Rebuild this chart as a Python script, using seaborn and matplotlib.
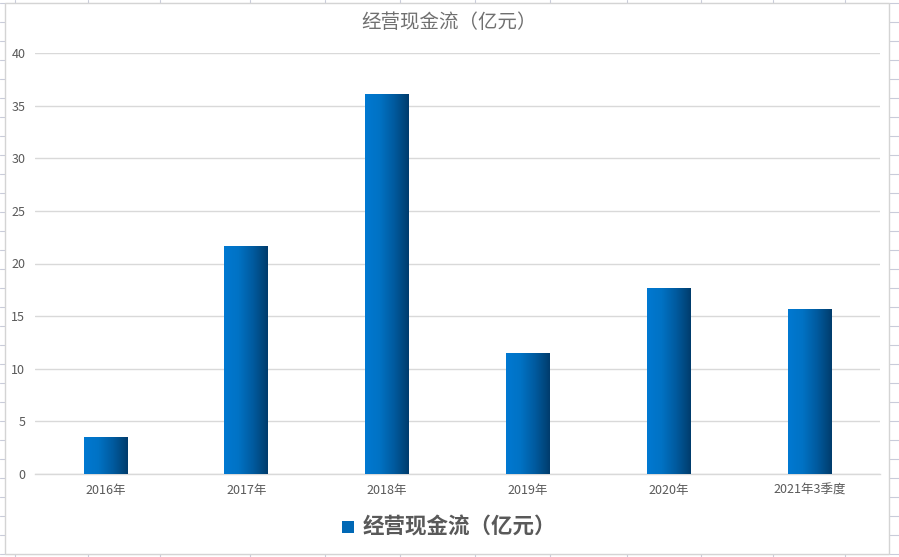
import numpy as np
import pandas as pd
import matplotlib
matplotlib.use("Agg")
import matplotlib.pyplot as plt
import seaborn as sns
from matplotlib.colors import LinearSegmentedColormap
from matplotlib.patches import Rectangle
from matplotlib.lines import Line2D

# chart data
periods = ['2016年', '2017年', '2018年', '2019年', '2020年', '2021年3季度']
cash_flow = [3.55, 21.7, 36.15, 11.5, 17.7, 15.7]
series_name = '经营现金流（亿元）'
y_ticks = [0, 5, 10, 15, 20, 25, 30, 35, 40]

df = pd.DataFrame({'period': periods, 'value': cash_flow})

sns.set_theme(style="white")
plt.rcParams['font.family'] = ['Noto Sans CJK SC', 'DejaVu Sans']

W, H = 899, 557
fig = plt.figure(figsize=(W / 100, H / 100), dpi=100)
fig.patch.set_facecolor('white')

# spreadsheet grid behind the chart
sheet = '#C9CCDA'
for y in np.arange(3, H, 19):
    fig.add_artist(Line2D([0, 1], [1 - y / H, 1 - y / H], color=sheet, lw=0.8, transform=fig.transFigure, zorder=0))
for x in [15, 88, 160, 250, 325, 400, 475, 550, 627, 701, 773, 845]:
    fig.add_artist(Line2D([x / W, x / W], [0, 1], color=sheet, lw=0.8, transform=fig.transFigure, zorder=0))

# chart box
fig.add_artist(Rectangle((5 / W, 1 - 554 / H), (889 - 5) / W, (554 - 3) / H, transform=fig.transFigure,
                         facecolor='white', edgecolor='#D4D4D4', lw=1.0, zorder=1))

ax = fig.add_axes([35 / W, 1 - 474 / H, (880 - 35) / W, (474 - 53) / H], zorder=2)
ax.patch.set_alpha(0)

sns.barplot(data=df, x='period', y='value', ax=ax, width=0.31, color='#0070C0', saturation=1)

ax.set_yticks(y_ticks)
ax.set_yticklabels([str(t) for t in y_ticks])
ax.yaxis.grid(True, color='#D9D9D9', lw=1)
ax.set_axisbelow(True)
for s in ['top', 'right', 'left']:
    ax.spines[s].set_visible(False)
ax.spines['bottom'].set_color('#D9D9D9')
ax.spines['bottom'].set_linewidth(1)
ax.tick_params(axis='both', length=0, labelsize=9, labelcolor='#595959')
ax.tick_params(axis='y', pad=7)
ax.tick_params(axis='x', pad=7)
ax.set_xlabel('')
ax.set_ylabel('')

# horizontal gradient fill for bars
cmap = LinearSegmentedColormap.from_list('bar', ['#0079D2', '#0072C4', '#005A9E', '#003C6C'])
grad = np.linspace(0, 1, 256).reshape(1, -1)
for bar in list(ax.patches):
    x0, y0 = bar.get_x(), bar.get_y()
    w, h = bar.get_width(), bar.get_height()
    bar.set_facecolor('none')
    bar.set_edgecolor('none')
    im = ax.imshow(grad, extent=[x0, x0 + w, y0, y0 + h], cmap=cmap, aspect='auto', zorder=3)
    im.set_clip_path(bar)
ax.set_xlim(-0.5, len(periods) - 0.5)
ax.set_ylim(0, 40)

fig.text(0.5, 1 - 22 / H, series_name, ha='center', va='center', fontsize=14, color='#707070')

# legend
fig.add_artist(Rectangle((342 / W, 1 - 533 / H), 12 / W, 12 / H, transform=fig.transFigure,
                         facecolor='#0068B5', edgecolor='none', zorder=3))
fig.text(363 / W, 1 - 527 / H, series_name, ha='left', va='center', fontsize=15.5,
         fontweight='bold', color='#595959', zorder=3)

fig.savefig('out.png', dpi=100)
